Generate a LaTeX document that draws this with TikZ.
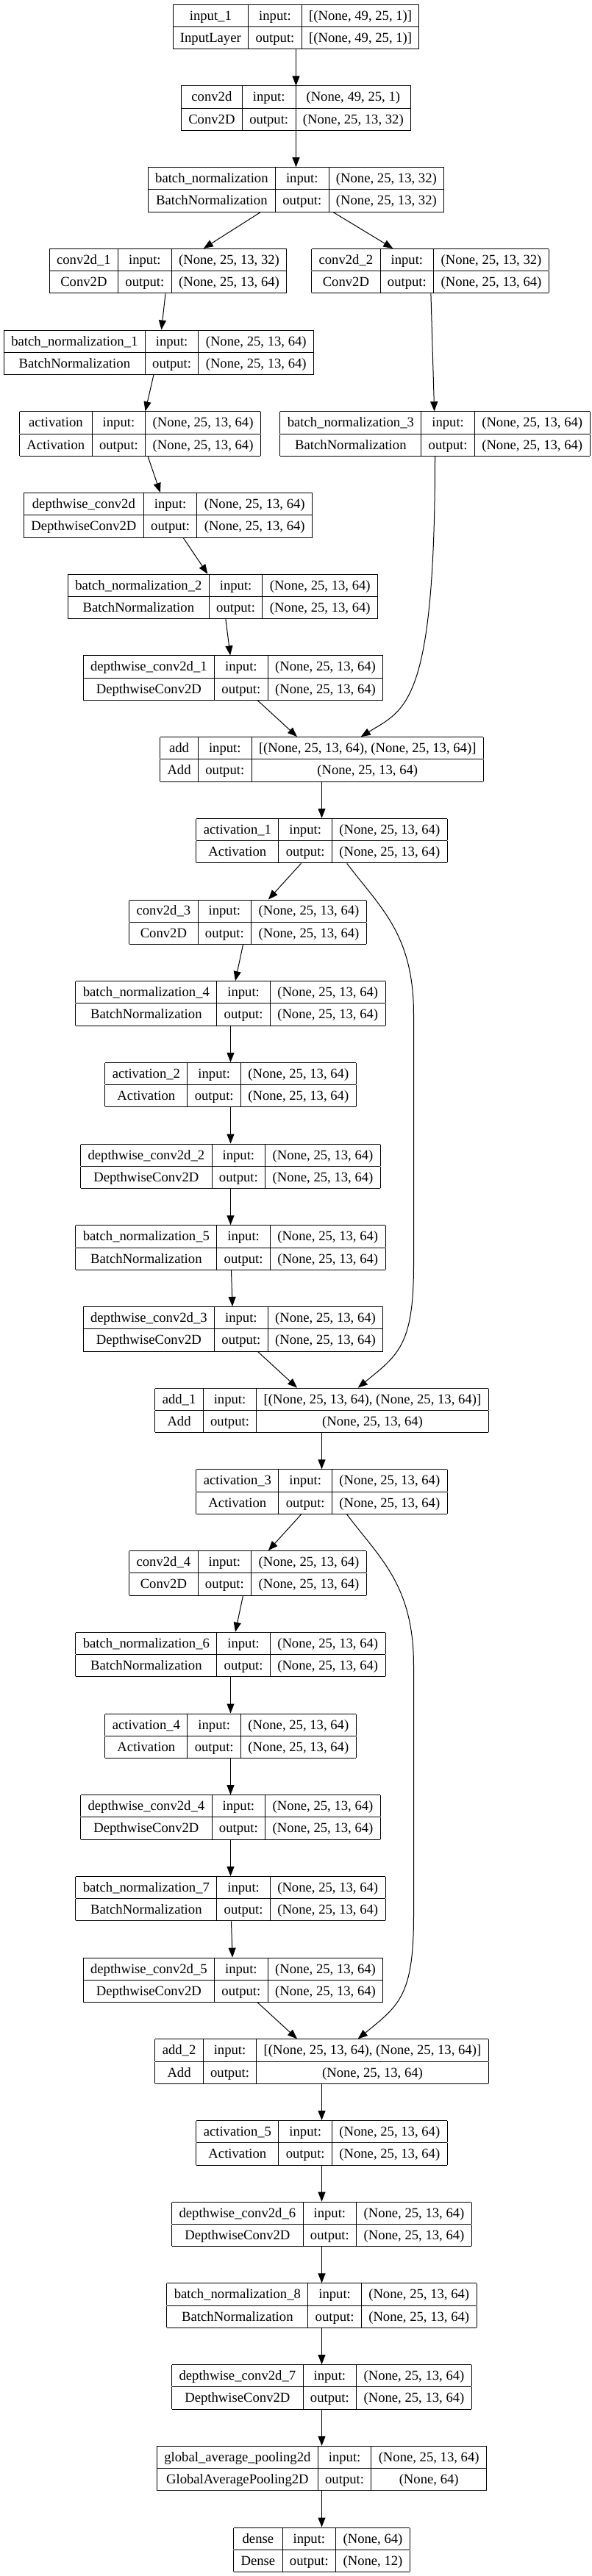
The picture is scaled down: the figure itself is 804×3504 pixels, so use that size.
\documentclass[tikz,border=0pt]{standalone}
\usepackage{fontspec}
\setmainfont{Liberation Serif}
\usetikzlibrary{calc, arrows.meta}
\setlength{\tabcolsep}{7.4pt}
\setlength{\arrayrulewidth}{0.75pt}
\renewcommand{\arraystretch}{1.33}
\newcommand{\layer}[4]{\begin{tabular}{|c|c|c|}\hline #1 & input: & #3\\\hline #2 & output: & #4\\\hline\end{tabular}}
\newcommand{\shp}{(None, 25, 13, 64)}
\tikzset{
  box/.style={inner sep=0pt, outer sep=0pt, font=\fontsize{14pt}{16.5pt}\selectfont},
  edge/.style={line width=0.75pt, -{Triangle[length=9.75pt,width=7.5pt]}}
}

\begin{document}
\begin{tikzpicture}[x=0.75pt, y=0.75pt]
\path[use as bounding box, fill=white] (0,0) rectangle (804,-3504);
\node[box] (input1) at (402.5,-36.55) {\layer{input\_1}{InputLayer}{[(None, 49, 25, 1)]}{[(None, 49, 25, 1)]}};
\node[box] (conv0) at (402.5,-147.25) {\layer{conv2d}{Conv2D}{(None, 49, 25, 1)}{(None, 25, 13, 32)}};
\node[box] (bn0) at (402.5,-257.95) {\layer{batch\_normalization}{BatchNormalization}{(None, 25, 13, 32)}{(None, 25, 13, 32)}};
\node[box] (conv1) at (228.5,-368.65) {\layer{conv2d\_1}{Conv2D}{(None, 25, 13, 32)}{\shp}};
\node[box] (conv2) at (585,-368.65) {\layer{conv2d\_2}{Conv2D}{(None, 25, 13, 32)}{\shp}};
\node[box] (bn1) at (216,-479.35) {\layer{batch\_normalization\_1}{BatchNormalization}{\shp}{\shp}};
\node[box] (act0) at (190.5,-590.05) {\layer{activation}{Activation}{\shp}{\shp}};
\node[box] (bn3) at (591.5,-590.05) {\layer{batch\_normalization\_3}{BatchNormalization}{\shp}{\shp}};
\node[box] (dw0) at (228.5,-700.75) {\layer{depthwise\_conv2d}{DepthwiseConv2D}{\shp}{\shp}};
\node[box] (bn2) at (303,-811.45) {\layer{batch\_normalization\_2}{BatchNormalization}{\shp}{\shp}};
\node[box] (dw1) at (317,-922.15) {\layer{depthwise\_conv2d\_1}{DepthwiseConv2D}{\shp}{\shp}};
\node[box] (add0) at (437.5,-1032.85) {\layer{add}{Add}{[\shp, \shp]}{\shp}};
\node[box] (act1) at (437.5,-1143.55) {\layer{activation\_1}{Activation}{\shp}{\shp}};
\node[box] (conv3) at (337,-1254.25) {\layer{conv2d\_3}{Conv2D}{\shp}{\shp}};
\node[box] (bn4) at (313.5,-1364.95) {\layer{batch\_normalization\_4}{BatchNormalization}{\shp}{\shp}};
\node[box] (act2) at (313.5,-1475.65) {\layer{activation\_2}{Activation}{\shp}{\shp}};
\node[box] (dw2) at (313.5,-1586.35) {\layer{depthwise\_conv2d\_2}{DepthwiseConv2D}{\shp}{\shp}};
\node[box] (bn5) at (313.5,-1697.05) {\layer{batch\_normalization\_5}{BatchNormalization}{\shp}{\shp}};
\node[box] (dw3) at (317,-1807.75) {\layer{depthwise\_conv2d\_3}{DepthwiseConv2D}{\shp}{\shp}};
\node[box] (add1) at (437.5,-1918.45) {\layer{add\_1}{Add}{[\shp, \shp]}{\shp}};
\node[box] (act3) at (437.5,-2029.15) {\layer{activation\_3}{Activation}{\shp}{\shp}};
\node[box] (conv4) at (337,-2139.85) {\layer{conv2d\_4}{Conv2D}{\shp}{\shp}};
\node[box] (bn6) at (313.5,-2250.55) {\layer{batch\_normalization\_6}{BatchNormalization}{\shp}{\shp}};
\node[box] (act4) at (313.5,-2361.25) {\layer{activation\_4}{Activation}{\shp}{\shp}};
\node[box] (dw4) at (313.5,-2471.95) {\layer{depthwise\_conv2d\_4}{DepthwiseConv2D}{\shp}{\shp}};
\node[box] (bn7) at (313.5,-2582.65) {\layer{batch\_normalization\_7}{BatchNormalization}{\shp}{\shp}};
\node[box] (dw5) at (317,-2693.35) {\layer{depthwise\_conv2d\_5}{DepthwiseConv2D}{\shp}{\shp}};
\node[box] (add2) at (437.5,-2804.05) {\layer{add\_2}{Add}{[\shp, \shp]}{\shp}};
\node[box] (act5) at (437.5,-2914.75) {\layer{activation\_5}{Activation}{\shp}{\shp}};
\node[box] (dw6) at (437.5,-3025.45) {\layer{depthwise\_conv2d\_6}{DepthwiseConv2D}{\shp}{\shp}};
\node[box] (bn8) at (437.5,-3136.15) {\layer{batch\_normalization\_8}{BatchNormalization}{\shp}{\shp}};
\node[box] (dw7) at (437.5,-3246.85) {\layer{depthwise\_conv2d\_7}{DepthwiseConv2D}{\shp}{\shp}};
\node[box] (gap) at (437.5,-3357.55) {\layer{global\_average\_pooling2d}{GlobalAveragePooling2D}{\shp}{(None, 64)}};
\node[box] (dense) at (437.5,-3468.25) {\layer{dense}{Dense}{(None, 64)}{(None, 12)}};
% main chain
\foreach \a/\b in {input1/conv0, conv0/bn0, bn0/conv1, bn0/conv2, conv1/bn1, bn1/act0, act0/dw0, dw0/bn2, bn2/dw1, dw1/add0, conv2/bn3,
  add0/act1, act1/conv3, conv3/bn4, bn4/act2, act2/dw2, dw2/bn5, bn5/dw3, dw3/add1,
  add1/act3, act3/conv4, conv4/bn6, bn6/act4, act4/dw4, dw4/bn7, bn7/dw5, dw5/add2,
  add2/act5, act5/dw6, dw6/bn8, bn8/dw7, dw7/gap, gap/dense}
  \draw[edge] (\a) -- (\b);
% skip connections
\coordinate (lane1) at (562.5,-1380);
\coordinate (lane2) at (562.5,-1720);
\coordinate (lane3) at (562.5,-2266);
\coordinate (lane4) at (562.5,-2606);
\draw[edge] (bn3.south) .. controls +(0,-339) and +(60,37) .. (add0.30);
\draw[edge] (act1.-42) .. controls +(45,-60) and +(0,110) .. (lane1) -- (lane2) .. controls +(0,-110) and +(55,45) .. (add1.32);
\draw[edge] (act3.-42) .. controls +(45,-60) and +(0,110) .. (lane3) -- (lane4) .. controls +(0,-110) and +(55,45) .. (add2.32);
\end{tikzpicture}
\end{document}
